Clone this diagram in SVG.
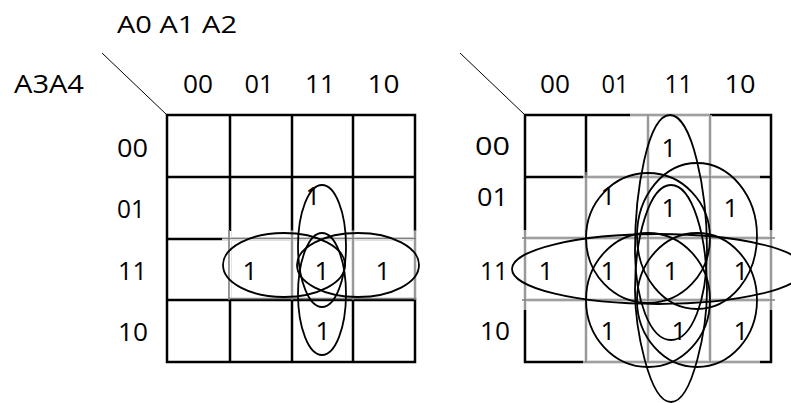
<svg xmlns="http://www.w3.org/2000/svg" width="791" height="403" viewBox="0 0 791 403">
<style>
  text { font-family: "Open Sans", "Liberation Sans", sans-serif; fill: #000; }
  .lbl { font-size: 26px; text-anchor: middle; }
  .one { font-size: 26px; text-anchor: middle; }
  .grid { stroke: #000; stroke-width: 2.5; fill: none; }
  .erase { stroke: #fff; stroke-width: 3.2; fill: none; }
  .gray { stroke: #808080; stroke-width: 1.6; fill: none; }
  .loop { stroke: #000; stroke-width: 1.8; fill: none; }
  .diag { stroke: #000; stroke-width: 1; }
</style>
<rect width="791" height="403" fill="#fff"/>

<g id="header-labels">
  <text x="117" y="33" font-size="24" textLength="120" lengthAdjust="spacingAndGlyphs">A0 A1 A2</text>
  <text x="14" y="93" font-size="26" textLength="70" lengthAdjust="spacingAndGlyphs">A3A4</text>
</g>

<g id="map-left">
  <line class="diag" x1="102" y1="53" x2="167" y2="115"/>
  <g id="left-col-labels">
    <text class="lbl" x="198" y="93" textLength="30" lengthAdjust="spacingAndGlyphs">00</text>
    <text class="lbl" x="259" y="93" textLength="29" lengthAdjust="spacingAndGlyphs">01</text>
    <text class="lbl" x="320" y="93" textLength="30" lengthAdjust="spacingAndGlyphs">11</text>
    <text class="lbl" x="383.5" y="93" textLength="32" lengthAdjust="spacingAndGlyphs">10</text>
  </g>
  <g id="left-row-labels">
    <text class="lbl" x="132.5" y="157" textLength="31" lengthAdjust="spacingAndGlyphs">00</text>
    <text class="lbl" x="131" y="218" textLength="28" lengthAdjust="spacingAndGlyphs">01</text>
    <text class="lbl" x="132.5" y="280" textLength="29" lengthAdjust="spacingAndGlyphs">11</text>
    <text class="lbl" x="133" y="341" textLength="30" lengthAdjust="spacingAndGlyphs">10</text>
  </g>
  <g id="left-grid">
    <rect class="grid" x="167" y="115" width="248" height="247"/>
    <path class="grid" d="M230 115V362M292 115V362M353 115V362M167 177H415M167 239H415M167 300H415"/>
    <path class="erase" d="M222 239H416M230 231V298M292 231V298M353 231V298M415 231V298"/>
    <path class="gray" d="M222 238.5H416M229 298.5H416M229 230V300M292 230V300M353 230V300M415 230V300"/>
  </g>
  <g id="left-ones">
    <text class="one" x="313" y="205">1</text>
    <text class="one" x="250" y="280">1</text>
    <text class="one" x="322" y="280">1</text>
    <text class="one" x="383" y="280">1</text>
    <text class="one" x="323" y="340">1</text>
  </g>
</g>

<g id="map-right">
  <line class="diag" x1="460" y1="53" x2="525" y2="115"/>
  <g id="right-col-labels">
    <text class="lbl" x="555" y="93" textLength="30" lengthAdjust="spacingAndGlyphs">00</text>
    <text class="lbl" x="615" y="93" textLength="27" lengthAdjust="spacingAndGlyphs">01</text>
    <text class="lbl" x="678.5" y="93" textLength="28" lengthAdjust="spacingAndGlyphs">11</text>
    <text class="lbl" x="740" y="93" textLength="31" lengthAdjust="spacingAndGlyphs">10</text>
  </g>
  <g id="right-row-labels">
    <text class="lbl" x="492.5" y="155" textLength="35" lengthAdjust="spacingAndGlyphs">00</text>
    <text class="lbl" x="492.5" y="206" textLength="31" lengthAdjust="spacingAndGlyphs">01</text>
    <text class="lbl" x="494" y="280" textLength="28" lengthAdjust="spacingAndGlyphs">11</text>
    <text class="lbl" x="495" y="340" textLength="30" lengthAdjust="spacingAndGlyphs">10</text>
  </g>
  <g id="right-grid">
    <rect class="grid" x="525" y="115" width="246" height="247"/>
    <path class="grid" d="M586 115V362M648 115V362M710 115V362M525 177H771M525 238H771M525 300H771"/>
    <path class="erase" d="M630 115H710M583 177H760M522 238H775M522 300H775M583 362H760M525 230V310M586 177V362M648 115V362M710 115V362M771 230V310"/>
    <path class="gray" d="M630 115H710M583 177H760M522 238H775M522 300H775M583 362H760M525 230V310M586 172V362M648 115V362M710 115V362M771 230V310"/>
  </g>
  <g id="right-ones">
    <text class="one" x="669" y="157">1</text>
    <text class="one" x="608" y="205">1</text>
    <text class="one" x="669" y="217">1</text>
    <text class="one" x="731" y="217">1</text>
    <text class="one" x="546" y="280">1</text>
    <text class="one" x="608" y="280">1</text>
    <text class="one" x="671" y="280">1</text>
    <text class="one" x="741" y="280">1</text>
    <text class="one" x="608" y="340">1</text>
    <text class="one" x="679" y="340">1</text>
    <text class="one" x="741" y="340">1</text>
  </g>
</g>

<g id="connectors">
  <g id="left-loops">
    <ellipse class="loop" cx="322" cy="246" rx="24" ry="61"/>
    <ellipse class="loop" cx="322" cy="294" rx="24" ry="61"/>
    <ellipse class="loop" cx="284" cy="265" rx="61" ry="32"/>
    <ellipse class="loop" cx="358" cy="265" rx="61" ry="32"/>
  </g>
  <g id="right-loops">
    <ellipse class="loop" cx="658" cy="269" rx="146" ry="35"/>
    <ellipse class="loop" cx="648" cy="238" rx="62" ry="65"/>
    <ellipse class="loop" cx="697" cy="236" rx="60" ry="73"/>
    <ellipse class="loop" cx="648" cy="300" rx="62" ry="67"/>
    <ellipse class="loop" cx="697" cy="300" rx="60" ry="67"/>
    <path class="loop" d="M670 115C692 115 707 190 707 250C707 300 692 340 671 340C650 340 635 300 635 250C635 190 648 115 670 115Z"/>
    <path class="loop" d="M671 402C649 402 635 327 635 290C635 235 650 185 671 185C692 185 707 235 707 290C707 327 693 402 671 402Z"/>
  </g>
</g>
</svg>
